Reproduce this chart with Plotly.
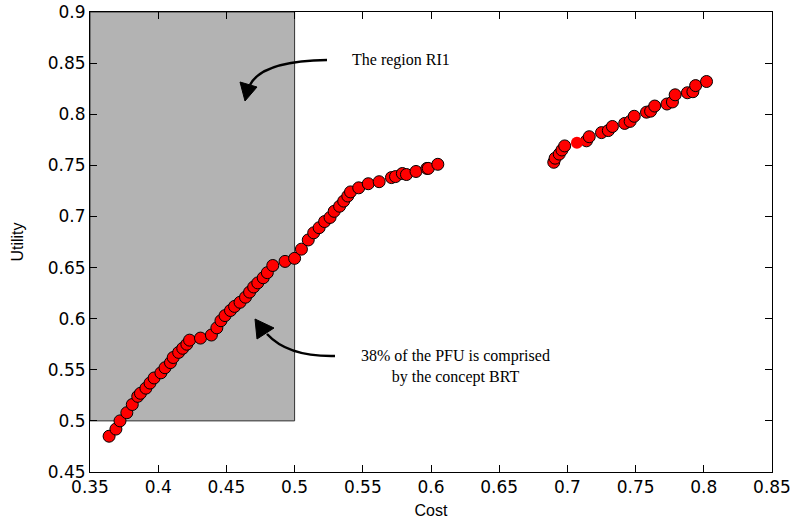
import plotly.graph_objects as go

# ---------------- data ----------------
cost_front_a = [0.364, 0.369, 0.372, 0.377, 0.381, 0.385, 0.387, 0.391, 0.394, 0.397,
                0.402, 0.405, 0.409, 0.411, 0.415, 0.418, 0.421, 0.423, 0.431, 0.439,
                0.443, 0.446, 0.449, 0.453, 0.456, 0.460, 0.464, 0.467, 0.470, 0.473,
                0.477, 0.480, 0.484, 0.493, 0.500, 0.505, 0.510, 0.514, 0.518, 0.522,
                0.526, 0.529, 0.533, 0.536, 0.539, 0.541, 0.547, 0.554, 0.562, 0.571,
                0.574, 0.579, 0.582, 0.589, 0.597, 0.598, 0.605]
utility_front_a = [0.485, 0.492, 0.500, 0.508, 0.516, 0.524, 0.527, 0.532, 0.537, 0.542,
                   0.547, 0.552, 0.557, 0.562, 0.567, 0.571, 0.575, 0.579, 0.581, 0.584,
                   0.591, 0.598, 0.603, 0.608, 0.612, 0.616, 0.621, 0.626, 0.631, 0.635,
                   0.640, 0.645, 0.652, 0.656, 0.659, 0.668, 0.677, 0.684, 0.689, 0.695,
                   0.699, 0.705, 0.710, 0.715, 0.720, 0.724, 0.728, 0.732, 0.734, 0.738,
                   0.739, 0.742, 0.741, 0.744, 0.747, 0.747, 0.751]

cost_front_b = [0.690, 0.691, 0.694, 0.696, 0.698, 0.714, 0.716, 0.725, 0.730, 0.733,
                0.742, 0.746, 0.749, 0.758, 0.761, 0.764, 0.773, 0.777, 0.779, 0.788,
                0.792, 0.794, 0.802]
utility_front_b = [0.753, 0.757, 0.761, 0.765, 0.769, 0.774, 0.778, 0.782, 0.784, 0.788,
                   0.791, 0.793, 0.798, 0.802, 0.803, 0.808, 0.810, 0.812, 0.819, 0.821,
                   0.822, 0.828, 0.832]

cost_plain = [0.707]
utility_plain = [0.772]

region_cost = [0.35, 0.50]
region_utility = [0.50, 0.90]

x_ticks = [0.35, 0.4, 0.45, 0.5, 0.55, 0.6, 0.65, 0.7, 0.75, 0.8, 0.85]
x_tick_labels = ["0.35", "0.4", "0.45", "0.5", "0.55", "0.6", "0.65", "0.7", "0.75", "0.8", "0.85"]
y_ticks = [0.45, 0.5, 0.55, 0.6, 0.65, 0.7, 0.75, 0.8, 0.85, 0.9]
y_tick_labels = ["0.45", "0.5", "0.55", "0.6", "0.65", "0.7", "0.75", "0.8", "0.85", "0.9"]

# ---------------- layout geometry ----------------
W, H = 794, 520
ML, MR, MT, MB = 90, 22, 12, 48
X_RANGE = [0.35, 0.85]
Y_RANGE = [0.45, 0.9]


def px(x, y):
    """Convert a pixel position in the final picture to data coordinates."""
    pw = W - ML - MR
    ph = H - MT - MB
    cx = X_RANGE[0] + (x - ML) / pw * (X_RANGE[1] - X_RANGE[0])
    cy = Y_RANGE[1] - (y - MT) / ph * (Y_RANGE[1] - Y_RANGE[0])
    return cx, cy


def curve_path(p0, pc, p1):
    a, b, c = px(*p0), px(*pc), px(*p1)
    return f"M {a[0]},{a[1]} Q {b[0]},{b[1]} {c[0]},{c[1]}"


def tri_path(p0, p1, p2):
    a, b, c = px(*p0), px(*p1), px(*p2)
    return f"M {a[0]},{a[1]} L {b[0]},{b[1]} L {c[0]},{c[1]} Z"


fig = go.Figure()

marker_style = dict(size=12, color="#ff0000", line=dict(color="black", width=1))
fig.add_trace(go.Scatter(x=cost_front_a, y=utility_front_a, mode="markers",
                         marker=marker_style, showlegend=False, cliponaxis=False))
fig.add_trace(go.Scatter(x=cost_front_b, y=utility_front_b, mode="markers",
                         marker=marker_style, showlegend=False))
fig.add_trace(go.Scatter(x=cost_plain, y=utility_plain, mode="markers",
                         marker=dict(size=12, color="#ff0000", line=dict(width=0)),
                         showlegend=False))

shapes = [
    dict(type="rect", xref="x", yref="y", x0=region_cost[0], x1=region_cost[1],
         y0=region_utility[0], y1=region_utility[1], fillcolor="#b3b3b3",
         line=dict(color="#333333", width=1), layer="below"),
    # arrow 1 (towards the region)
    dict(type="path", xref="x", yref="y", path=curve_path((327, 60), (262, 61), (250, 85)),
         line=dict(color="black", width=2.5)),
    dict(type="path", xref="x", yref="y", path=tri_path((240, 82), (245, 101), (257, 87)),
         fillcolor="black", line=dict(color="black", width=1)),
    # arrow 2 (towards the front)
    dict(type="path", xref="x", yref="y", path=curve_path((335, 356), (288, 357), (267, 334)),
         line=dict(color="black", width=2.5)),
    dict(type="path", xref="x", yref="y", path=tri_path((257, 339), (255, 319), (274, 328)),
         fillcolor="black", line=dict(color="black", width=1)),
]

t1 = px(401, 60)
t2 = px(455, 366)
annotations = [
    dict(x=t1[0], y=t1[1], xref="x", yref="y", text="The region RI1", showarrow=False,
         font=dict(family="Liberation Serif", size=16, color="black"), xanchor="center", yanchor="middle"),
    dict(x=t2[0], y=t2[1], xref="x", yref="y",
         text="38% of the PFU is comprised<br>by the concept BRT", showarrow=False, align="center",
         font=dict(family="Liberation Serif", size=16, color="black"), xanchor="center", yanchor="middle"),
]

axis_common = dict(showgrid=False, zeroline=False, showline=True, linecolor="black", linewidth=1,
                   mirror="ticks", ticks="inside", ticklen=7, tickwidth=1, tickcolor="black",
                   automargin=False, ticklabeloverflow="allow",
                   tickfont=dict(family="DejaVu Sans", size=17, color="black"))

fig.update_layout(
    width=W, height=H,
    margin=dict(l=ML, r=MR, t=MT, b=MB, pad=0, autoexpand=False),
    paper_bgcolor="white", plot_bgcolor="white",
    shapes=shapes, annotations=annotations,
    xaxis=dict(range=X_RANGE, tickvals=x_ticks, ticktext=x_tick_labels,
               title=dict(text="Cost", font=dict(family="Liberation Sans", size=16, color="black"), standoff=8),
               **axis_common),
    yaxis=dict(range=Y_RANGE, tickvals=y_ticks, ticktext=y_tick_labels,
               title=dict(text="Utility", font=dict(family="Liberation Sans", size=16, color="black"), standoff=20),
               **axis_common),
)

fig.write_html("out.html", config={"displayModeBar": False},
               post_script="document.body.style.margin='0';document.body.style.overflow='hidden';")
